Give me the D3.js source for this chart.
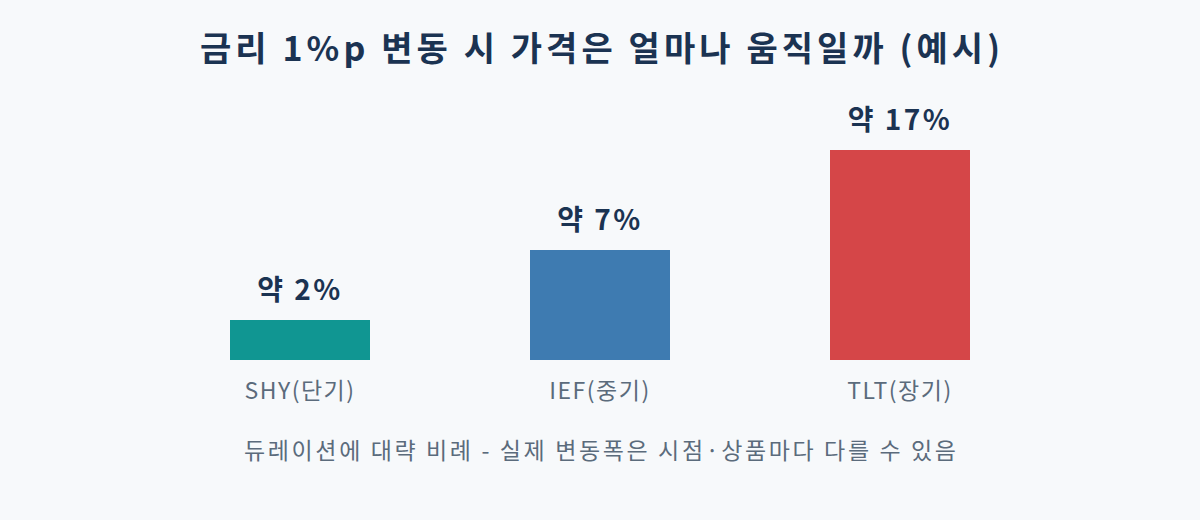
<!DOCTYPE html>
<html>
<head>
<meta charset="utf-8">
<script src="https://cdn.jsdelivr.net/npm/d3@7"></script>
<style>
  html, body { margin: 0; padding: 0; background: #f7f9fb; }
  svg { display: block; }
</style>
</head>
<body>
<svg id="chart" width="1200" height="520"></svg>
<script>
const titleText = "금리 1%p 변동 시 가격은 얼마나 움직일까 (예시)";
const footnote = "듀레이션에 대략 비례 - 실제 변동폭은 시점·상품마다 다를 수 있음";
const categories = ["SHY(단기)", "IEF(중기)", "TLT(장기)"];
const changePct = [2, 7, 17];          // displayed price change (%)
const barLevel = [4, 11, 21];          // visual bar magnitude as drawn
const colors = ["#109692", "#3e7bb1", "#d54648"];

const svg = d3.select("#chart");
const W = 1200, H = 520;
svg.append("rect").attr("width", W).attr("height", H).attr("fill", "#f7f9fb");

const x = d3.scalePoint().domain(categories).range([150, 1050]).padding(0.5);
const y = d3.scaleLinear().domain([0, 21]).range([360, 150]);
const barW = 140;
const font = "'Noto Sans CJK KR', 'Noto Sans', sans-serif";

svg.append("text")
  .attr("x", W / 2).attr("y", 61)
  .attr("text-anchor", "middle")
  .attr("font-family", font)
  .attr("font-weight", 700)
  .attr("font-size", 34)
  .attr("textLength", 800)
  .attr("lengthAdjust", "spacing")
  .attr("fill", "#1b3352")
  .text(titleText);

const data = categories.map((c, i) => ({ c, pct: changePct[i], lv: barLevel[i], col: colors[i] }));

svg.selectAll("rect.bar").data(data).enter().append("rect")
  .attr("class", "bar")
  .attr("x", d => x(d.c) - barW / 2)
  .attr("y", d => y(d.lv))
  .attr("width", barW)
  .attr("height", d => y(0) - y(d.lv))
  .attr("fill", d => d.col);

svg.selectAll("text.val").data(data).enter().append("text")
  .attr("class", "val")
  .attr("x", d => x(d.c))
  .attr("y", d => y(d.lv) - 20)
  .attr("text-anchor", "middle")
  .attr("font-family", font)
  .attr("font-weight", 700)
  .attr("font-size", 28)
  .attr("letter-spacing", "2.5px")
  .attr("fill", "#1b3352")
  .text(d => "약 " + d.pct + "%");

svg.selectAll("text.cat").data(data).enter().append("text")
  .attr("class", "cat")
  .attr("x", d => x(d.c))
  .attr("y", y(0) + 39)
  .attr("text-anchor", "middle")
  .attr("font-family", font)
  .attr("font-size", 23)
  .attr("letter-spacing", "1.5px")
  .attr("fill", "#5b6b7c")
  .text(d => d.c);

svg.append("text")
  .attr("x", W / 2).attr("y", 459)
  .attr("text-anchor", "middle")
  .attr("font-family", font)
  .attr("font-size", 23)
  .attr("textLength", 712)
  .attr("lengthAdjust", "spacing")
  .attr("fill", "#5b6b7c")
  .text(footnote);
</script>
</body>
</html>
